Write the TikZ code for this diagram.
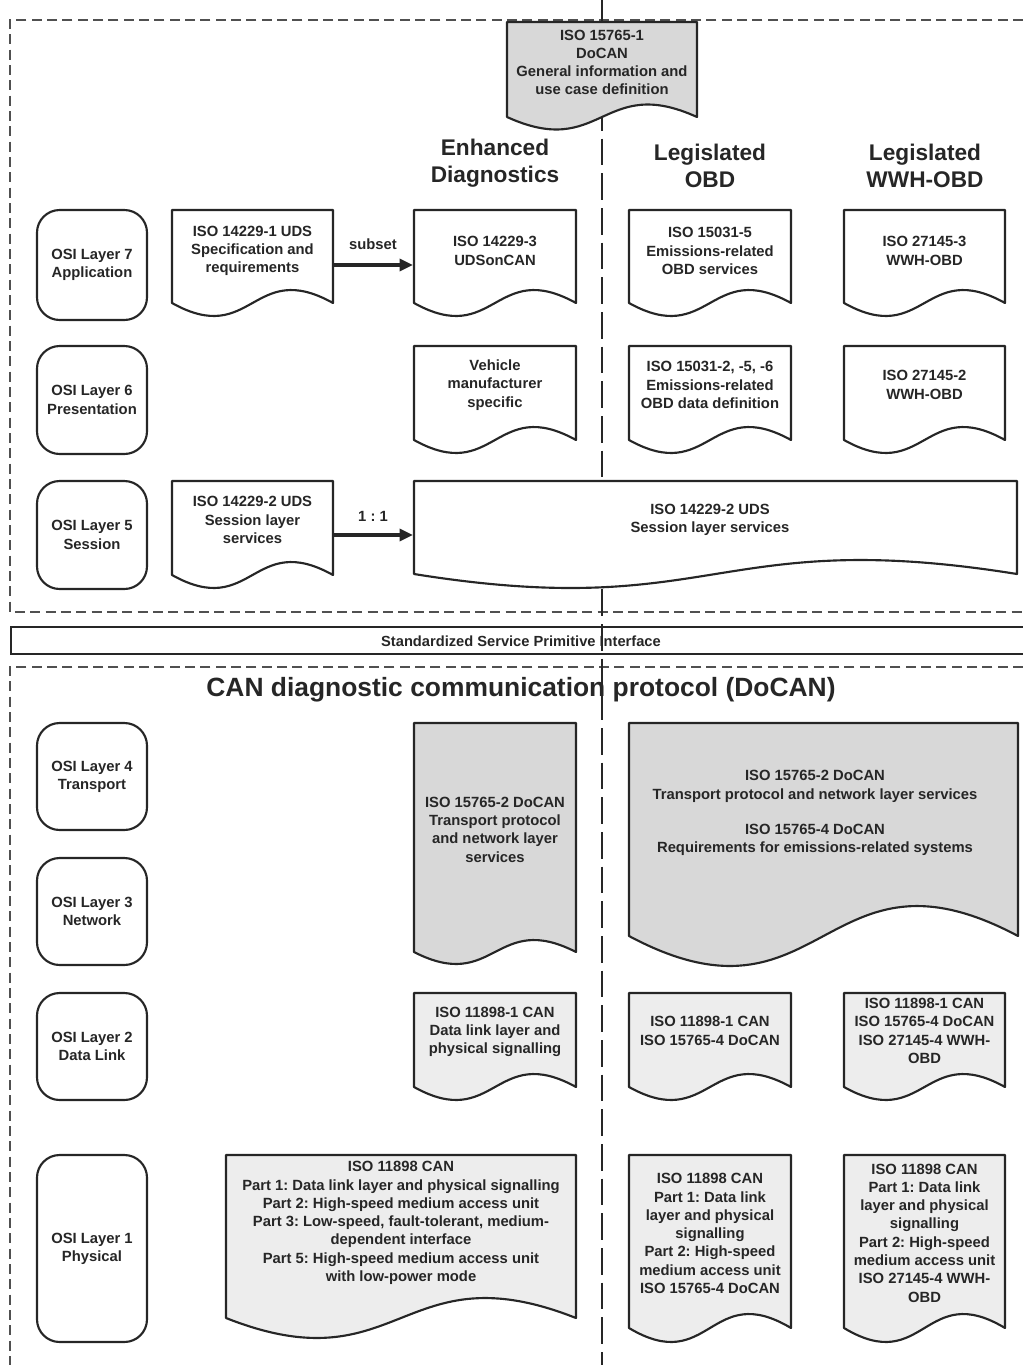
\documentclass[tikz,border=0pt]{standalone}
\usepackage{fontspec}
\setmainfont{Liberation Sans}
\usetikzlibrary{arrows.meta}
\definecolor{darkfill}{HTML}{D8D8D8}
\definecolor{lightfill}{HTML}{EDEDED}
\definecolor{inkc}{HTML}{262626}
\definecolor{dashc}{HTML}{505050}
\newcommand\docshape[6]{%
  \draw[docline,fill=#6] (#1,#2) -- (#3,#2) -- (#3,#4)
    .. controls ({(#1+#3)/2},{#4-3.46*#5}) and ({(#1+#3)/2},{#4+3.46*#5}) .. (#1,#4) -- cycle;}
\tikzset{
  docline/.style={draw=inkc,line width=1.6pt,line join=round},
  doctext/.style={text=inkc,align=center,inner sep=0pt,font=\frenchspacing\bfseries\fontsize{11.1}{13.7}\selectfont},
  osi/.style={draw=inkc,line width=1.6pt,rounded corners=17pt,minimum width=82.5pt,align=center,
    text=inkc,inner sep=0pt,font=\frenchspacing\bfseries\fontsize{11.1}{13.7}\selectfont},
  heading/.style={text=inkc,align=center,inner sep=0pt,font=\bfseries\fontsize{17}{20.25}\selectfont},
  frameline/.style={draw=dashc,line width=1.4pt,dash pattern=on 7.5pt off 4pt},
  centerline/.style={draw=inkc,line width=1.5pt,dash pattern=on 20pt off 6pt},
  arr/.style={draw=inkc,line width=2.4pt,-{Triangle[length=10pt,width=9pt]}},
  lbl/.style={text=inkc,inner sep=0pt,font=\frenchspacing\bfseries\fontsize{11.1}{13.7}\selectfont}
}
\begin{document}
\begin{tikzpicture}[x=0.75pt,y=-0.75pt]
\useasboundingbox (0,0) rectangle (1023,1365);
% frames
\draw[frameline] (1023,20) -- (10,20) -- (10,612) -- (1023,612);
\draw[frameline] (1023,667) -- (10,667) -- (10,1365);
\coordinate (ctop) at (602,0);
\coordinate (cbot) at (602,1365);
\draw[centerline] (ctop) -- (cbot);
% interface bar
\node[draw=inkc,line width=1.2pt,minimum width=790pt,minimum height=20.25pt,anchor=west,inner sep=0pt] (bar) at (10,640.5) {};
\node[text=inkc,font=\frenchspacing\bfseries\fontsize{11}{13}\selectfont] (bartext) at (521,641) {Standardized Service Primitive Interface};
% title
\node[text=inkc,font=\bfseries\fontsize{19.8}{24}\selectfont] (title) at (521,690) {CAN diagnostic communication protocol (DoCAN)};
% top doc
\docshape{507}{22}{697}{117}{12.5}{darkfill}
\node[doctext,font=\bfseries\fontsize{11.1}{13.5}\selectfont] (d0) at (602,62) {ISO 15765-1\\DoCAN\\General information and\\use case definition};
% headings
\node[heading] (h1) at (495,163.5) {Enhanced\\Diagnostics};
\node[heading] (h2) at (710,165.5) {Legislated\\OBD};
\node[heading] (h3) at (925,165.5) {Legislated\\WWH-OBD};
% OSI boxes
\node[osi,minimum height=82.5pt] (L7) at (92,265) {OSI Layer 7\\Application};
\node[osi,minimum height=81pt] (L6) at (92,400) {OSI Layer 6\\Presentation};
\node[osi,minimum height=81pt] (L5) at (92,535) {OSI Layer 5\\Session};
\node[osi,minimum height=80.25pt] (L4) at (92,776.5) {OSI Layer 4\\Transport};
\node[osi,minimum height=80.25pt] (L3) at (92,911.5) {OSI Layer 3\\Network};
\node[osi,minimum height=80.25pt] (L2) at (92,1046.5) {OSI Layer 2\\Data Link};
\node[osi,minimum height=140.25pt] (L1) at (92,1248.5) {OSI Layer 1\\Physical};
% layer 7
\docshape{172}{210}{333}{303}{13}{white}
\docshape{414}{210}{576}{303}{13}{white}
\docshape{629}{210}{791}{303}{13}{white}
\docshape{844}{210}{1005}{303}{13}{white}
\node[doctext] (d71) at (252.5,251) {ISO 14229-1 UDS\\Specification and\\requirements};
\node[doctext] (d72) at (495,251) {ISO 14229-3\\UDSonCAN};
\node[doctext] (d73) at (710,251) {ISO 15031-5\\Emissions-related\\OBD services};
\node[doctext] (d74) at (924.5,251) {ISO 27145-3\\WWH-OBD};
\coordinate (a7s) at (333,265);
\coordinate (a7e) at (413,265);
\draw[arr] (a7s) -- (a7e) node[lbl,midway,above=10pt] {subset};
% layer 6
\docshape{414}{346}{576}{440}{13}{white}
\docshape{629}{346}{791}{440}{13}{white}
\docshape{844}{346}{1005}{440}{13}{white}
\node[doctext] (d62) at (495,385) {Vehicle\\manufacturer\\specific};
\node[doctext] (d63) at (710,385) {ISO 15031-2, -5, -6\\Emissions-related\\OBD data definition};
\node[doctext] (d64) at (924.5,385) {ISO 27145-2\\WWH-OBD};
% layer 5
\docshape{172}{481}{333}{575}{13}{white}
\docshape{414}{481}{1017}{574}{14}{white}
\node[doctext] (d51) at (252.5,520) {ISO 14229-2 UDS\\Session layer\\services};
\node[doctext] (d52) at (710,519.5) {ISO 14229-2 UDS\\Session layer services};
\coordinate (a5s) at (333,535);
\coordinate (a5e) at (413,535);
\draw[arr] (a5s) -- (a5e) node[lbl,midway,above=9pt] {1 : 1};
% layers 4/3
\docshape{414}{723}{576}{952}{12}{darkfill}
\docshape{629}{723}{1018}{936}{30}{darkfill}
\node[doctext] (d4a) at (495,829.5) {ISO 15765-2 DoCAN\\Transport protocol\\and network layer\\services};
\node[doctext] (d4b) at (815,813) {ISO 15765-2 DoCAN\\Transport protocol and network layer services\\[12.5pt]ISO 15765-4 DoCAN\\Requirements for emissions-related systems};
% layer 2
\docshape{414}{993}{576}{1087}{13}{lightfill}
\docshape{629}{993}{791}{1087}{13}{lightfill}
\docshape{844}{993}{1005}{1087}{13}{lightfill}
\node[doctext] (d2a) at (495,1032) {ISO 11898-1 CAN\\Data link layer and\\physical signalling};
\node[doctext] (d2b) at (710,1031) {ISO 11898-1 CAN\\ISO 15765-4 DoCAN};
\node[doctext] (d2c) at (924.5,1031) {ISO 11898-1 CAN\\ISO 15765-4 DoCAN\\ISO 27145-4 WWH-\\OBD};
% layer 1
\docshape{226}{1155}{576}{1318}{20}{lightfill}
\docshape{629}{1155}{791}{1328}{14}{lightfill}
\docshape{844}{1155}{1005}{1328}{14}{lightfill}
\node[doctext] (d1a) at (401,1223) {ISO 11898 CAN\\Part 1: Data link layer and physical signalling\\Part 2: High-speed medium access unit\\Part 3: Low-speed, fault-tolerant, medium-\\dependent interface\\Part 5: High-speed medium access unit\\with low-power mode};
\node[doctext] (d1b) at (710,1233.5) {ISO 11898 CAN\\Part 1: Data link\\layer and physical\\signalling\\Part 2: High-speed\\medium access unit\\ISO 15765-4 DoCAN};
\node[doctext] (d1c) at (924.5,1233) {ISO 11898 CAN\\Part 1: Data link\\layer and physical\\signalling\\Part 2: High-speed\\medium access unit\\ISO 27145-4 WWH-\\OBD};
\end{tikzpicture}
\end{document}
